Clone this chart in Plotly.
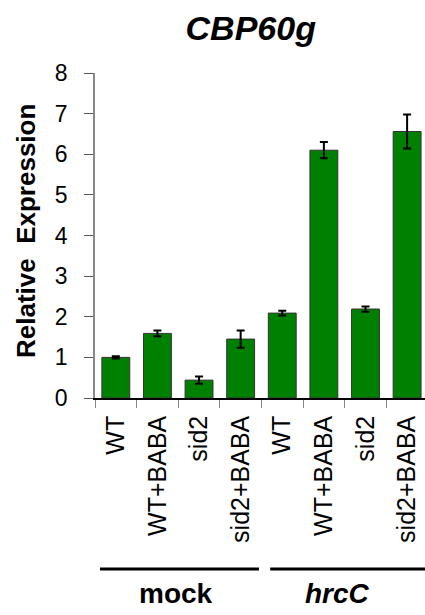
import plotly.graph_objects as go

categories = ["WT", "WT+BABA", "sid2", "sid2+BABA", "WT ", "WT+BABA ", "sid2 ", "sid2+BABA "]
tick_labels = ["WT", "WT+BABA", "sid2", "sid2+BABA", "WT", "WT+BABA", "sid2", "sid2+BABA"]
values = [1.0, 1.59, 0.44, 1.45, 2.09, 6.10, 2.19, 6.56]
errors = [0.03, 0.07, 0.09, 0.21, 0.06, 0.20, 0.065, 0.42]
groups = ["mock", "<i>hrcC</i>"]
group_spans = [(-0.38, 3.44), (3.71, 7.6)]
group_centers = [1.45, 5.32]

FONT = "Arial, Liberation Sans, sans-serif"

fig = go.Figure()
fig.add_trace(go.Bar(
    x=categories, y=values,
    width=0.67,
    marker=dict(color="#008000", line=dict(color="#333333", width=1)),
    error_y=dict(type="data", array=errors, color="black", thickness=2, width=4),
))

fig.update_layout(
    width=425, height=615,
    margin=dict(l=95, r=0, t=73, b=217),
    plot_bgcolor="white", paper_bgcolor="white",
    showlegend=False,
    font=dict(family=FONT, color="black", size=20),
    title=dict(text="<b><i>CBP60g</i></b>", x=0.59, xanchor="center", y=0.954, yanchor="middle",
               font=dict(family=FONT, size=34, color="black")),
    xaxis=dict(
        type="category", range=[-0.5, 7.43],
        tickmode="array", tickvals=categories, ticktext=tick_labels,
        tickangle=-90, tickson="boundaries", ticks="outside", ticklen=8, tickcolor="#888888",
        showline=True, linecolor="black", linewidth=1.5,
        showgrid=False, tickfont=dict(size=25, family=FONT), zeroline=False,
        ticklabelstandoff=6,
    ),
    yaxis=dict(
        range=[0, 8], dtick=1, ticks="outside", ticklen=9, tickcolor="#555555",
        showline=True, linecolor="#888888", linewidth=1.5,
        showgrid=False, zeroline=False, tickfont=dict(size=23, family=FONT),
        ticklabelstandoff=12,
    ),
)

fig.add_annotation(text="<b>Relative  Expression</b>", textangle=-90, xref="paper", yref="paper",
                   x=-0.209, y=0.514, xanchor="center", yanchor="middle", showarrow=False,
                   font=dict(size=26, family=FONT, color="black"))

for (x0, x1), c, g in zip(group_spans, group_centers, groups):
    fig.add_shape(type="line", xref="x", yref="paper", x0=x0, x1=x1, y0=-0.526, y1=-0.526,
                  line=dict(color="black", width=3))
    fig.add_annotation(x=c, y=-0.603, xref="x", yref="paper", text=f"<b>{g}</b>", showarrow=False,
                       font=dict(size=28, family=FONT, color="black"), yanchor="middle", xanchor="center")

fig.write_html("out.html", config={"displayModeBar": False},
               post_script="document.body.style.margin='0';document.body.style.overflow='hidden';")
